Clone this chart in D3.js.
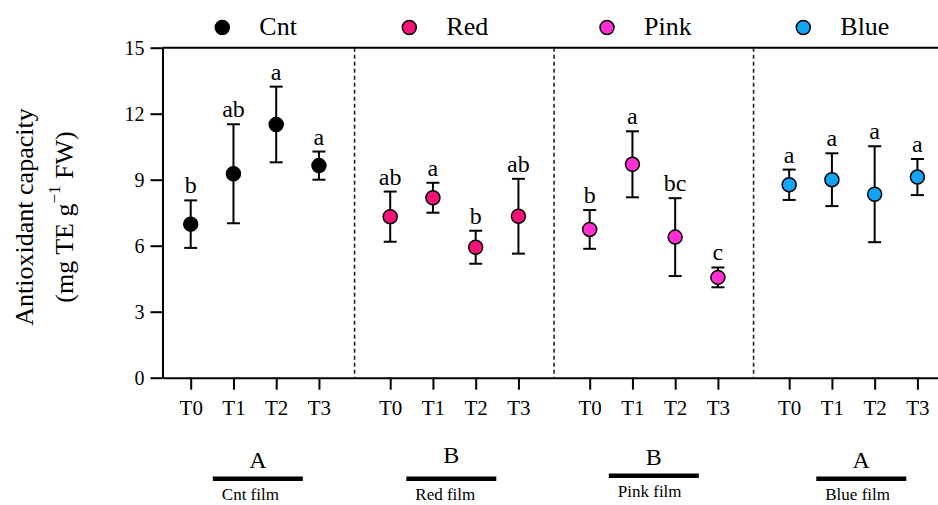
<!DOCTYPE html>
<html>
<head>
<meta charset="utf-8">
<script src="https://cdn.jsdelivr.net/npm/d3@7"></script>
<style>
    body { margin: 0; background: #fff; }
    text { font-family: "Liberation Serif", "Times New Roman", serif; fill: #000; }
</style>
</head>
<body>
<div id="chart"></div>
<script>
// data
const groups = ["Cnt", "Red", "Pink", "Blue"];
const times = ["T0", "T1", "T2", "T3"];
const groupColors = ["#000000", "#f5137a", "#ff2fd2", "#12a4f5"];

const cntMean = [6.98, 9.27, 11.51, 9.64];
const cntSD = [1.08, 2.25, 1.72, 0.64];
const redMean = [7.32, 8.18, 5.93, 7.34];
const redSD = [1.14, 0.68, 0.75, 1.70];
const pinkMean = [6.74, 9.70, 6.39, 4.56];
const pinkSD = [0.88, 1.50, 1.77, 0.45];
const blueMean = [8.77, 9.00, 8.34, 9.12];
const blueSD = [0.69, 1.20, 2.18, 0.82];

const cntLetters = ["b", "ab", "a", "a"];
const redLetters = ["ab", "a", "b", "ab"];
const pinkLetters = ["b", "a", "bc", "c"];
const blueLetters = ["a", "a", "a", "a"];

const groupLetters = ["A", "B", "B", "A"];
const filmLabels = ["Cnt film", "Red film", "Pink film", "Blue film"];
const yTicks = [0, 3, 6, 9, 12, 15];

const means = [cntMean, redMean, pinkMean, blueMean];
const sds = [cntSD, redSD, pinkSD, blueSD];
const letters = [cntLetters, redLetters, pinkLetters, blueLetters];

const width = 938;
const height = 505;
const stride = 4.667; // slots per group incl. gap

const svg = d3.select("#chart")
    .append("svg")
    .attr("width", width)
    .attr("height", height);

const x = d3.scaleLinear()
    .domain([-0.66, 17.67])
    .range([162.5, 946]);

const y = d3.scaleLinear()
    .domain([0, 15])
    .range([377.7, 47.7]);

const points = [];
groups.forEach((g, gi) => {
    times.forEach((t, ti) => {
        points.push({
            group: gi,
            pos: gi * stride + ti,
            mean: means[gi][ti],
            sd: sds[gi][ti],
            letter: letters[gi][ti],
            color: groupColors[gi]
        });
    });
});

// axes
const yAxis = svg.append("g")
    .attr("transform", `translate(${x(-0.66)},0)`)
    .call(d3.axisLeft(y).tickValues(yTicks).tickSize(12).tickSizeOuter(0).tickPadding(6));

const xAxis = svg.append("g")
    .attr("transform", `translate(0,${y(0)})`)
    .call(d3.axisBottom(x)
        .tickValues(points.map(d => d.pos))
        .tickFormat((d, i) => times[i % 4])
        .tickSize(12).tickSizeOuter(0).tickPadding(10));

[yAxis, xAxis].forEach(ax => {
    ax.attr("font-family", null).attr("font-size", null);
    ax.selectAll("path, line").attr("stroke", "#000").attr("stroke-width", 2);
});
yAxis.selectAll("text").style("font-size", "20px");
xAxis.selectAll("text").style("font-size", "21px");

// top frame line
svg.append("line")
    .attr("x1", x(-0.66)).attr("x2", x(17.67))
    .attr("y1", y(15)).attr("y2", y(15))
    .attr("stroke", "#000").attr("stroke-width", 2);

// dashed dividers
[1, 2, 3].forEach(g => {
    svg.append("line")
        .attr("x1", x(g * stride - 0.833)).attr("x2", x(g * stride - 0.833))
        .attr("y1", y(15)).attr("y2", y(0))
        .attr("stroke", "#222").attr("stroke-width", 1.6)
        .attr("stroke-dasharray", "4,3");
});

// error bars
const bars = svg.append("g").attr("stroke", "#000").attr("stroke-width", 2);
points.forEach(d => {
    const cx = x(d.pos);
    bars.append("line").attr("x1", cx).attr("x2", cx)
        .attr("y1", y(d.mean - d.sd)).attr("y2", y(d.mean + d.sd));
    [d.mean - d.sd, d.mean + d.sd].forEach(v => {
        bars.append("line").attr("x1", cx - 6.5).attr("x2", cx + 6.5)
            .attr("y1", y(v)).attr("y2", y(v));
    });
});

svg.selectAll(".pt")
    .data(points)
    .enter()
    .append("circle")
    .attr("class", "pt")
    .attr("cx", d => x(d.pos))
    .attr("cy", d => y(d.mean))
    .attr("r", 7)
    .attr("fill", d => d.color)
    .attr("stroke", "#000")
    .attr("stroke-width", 1.5);

svg.selectAll(".sig")
    .data(points)
    .enter()
    .append("text")
    .attr("class", "sig")
    .attr("x", d => x(d.pos))
    .attr("y", d => y(d.mean + d.sd) - 7)
    .attr("text-anchor", "middle")
    .style("font-size", "24px")
    .text(d => d.letter);

// legend
const legendX = [222.3, 409.3, 607, 803.3];
groups.forEach((g, i) => {
    svg.append("circle")
        .attr("cx", legendX[i]).attr("cy", 27.5).attr("r", 7)
        .attr("fill", groupColors[i])
        .attr("stroke", "#000").attr("stroke-width", 1.5);
    svg.append("text")
        .attr("x", legendX[i] + 37).attr("y", 35)
        .style("font-size", "26px")
        .text(g);
});

// y label
const ylab = svg.append("text")
    .attr("transform", "translate(33,217) rotate(-90)")
    .attr("text-anchor", "middle")
    .style("font-size", "26px");
ylab.append("tspan").attr("x", 0).attr("y", 0).text("Antioxidant capacity");
const l2 = ylab.append("tspan").attr("x", 0).attr("y", 40);
l2.append("tspan").text("(mg TE g");
l2.append("tspan").attr("dy", -13).style("font-size", "17px").text("\u22121");
l2.append("tspan").attr("dy", 13).text(" FW)");

// group letters, bars and film labels below the axis
const footShift = [3, -3, 0, 8];
const footLift = [0, -5, -3, 0];
groups.forEach((g, i) => {
    const cx = x(i * stride + 1.5) + footShift[i];
    svg.append("text")
        .attr("x", cx).attr("y", 468 + footLift[i])
        .attr("text-anchor", "middle")
        .style("font-size", "24px")
        .text(groupLetters[i]);
    svg.append("rect")
        .attr("x", cx - 45).attr("y", 476.5 + (i === 2 ? -3 : 0))
        .attr("width", 90).attr("height", 4.5)
        .attr("fill", "#000");
    svg.append("text")
        .attr("x", cx - 36).attr("y", 500 + (i === 2 ? -3 : 0))
        .style("font-size", "17px")
        .text(filmLabels[i]);
});
</script>
</body>
</html>
